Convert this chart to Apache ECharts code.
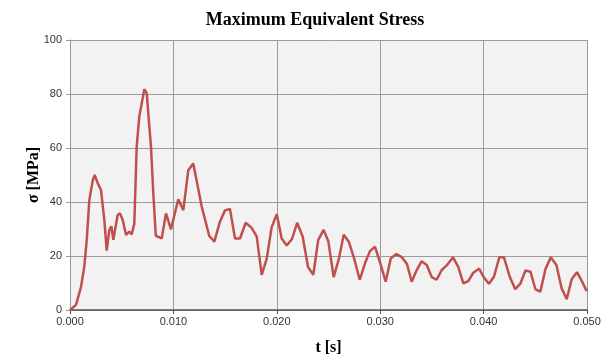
<!DOCTYPE html>
<html>
<head>
<meta charset="utf-8">
<script src="https://cdn.jsdelivr.net/npm/echarts@6/dist/echarts.min.js"></script>
<style>
html,body{margin:0;padding:0;background:#fff;}
#chart{width:612px;height:361px;}
</style>
</head>
<body>
<div id="chart"></div>
<script>
// time in ms (converted to s below), stress in MPa
var timeMs=[0,0.58,1.06,1.38,1.62,1.87,2.2,2.39,2.68,3.0,3.32,3.55,3.8,4.0,4.19,4.61,4.84,5.1,5.42,5.74,5.97,6.22,6.45,6.7,7.19,7.42,7.83,8.06,8.3,
    8.87,9.28,9.4,9.77,10.47,10.96,11.44,11.92,12.74,13.47,13.96,14.5,14.99,15.47,15.96,16.44,16.99,17.57,18.06,18.54,19.02,19.5,20.0,
    20.47,20.96,21.47,21.97,22.5,23.02,23.53,24.01,24.52,24.98,25.5,26.0,26.47,26.96,27.49,28.02,28.53,29.01,29.5,29.98,30.53,31.02,
    31.56,32.08,32.59,33.05,33.53,34.01,34.5,34.98,35.46,35.95,36.43,37.04,37.55,38.04,38.52,39.0,39.56,40.04,40.52,41.0,41.52,41.97,
    42.51,43.06,43.56,44.05,44.53,45.02,45.49,45.99,46.5,47.04,47.55,48.04,48.52,49.03,49.49,49.97];
var stress=[0,1.9,8.5,16,26,40.7,48,50,47,44.4,33.3,22,29.6,31,26,35.2,35.8,33.3,27.8,29,28,32,60.5,71.6,81.8,80.2,60.5,43,27.5,
    26.5,35.8,36,29.9,41,37,51.8,54.3,38.3,27.4,25.3,32.7,36.9,37.4,26.5,26.5,32.3,30.4,27.2,13,18.9,30.6,35.5,
    26.5,23.9,26.3,32.3,27.2,15.9,13,26,29.7,25.5,12.2,18.9,27.9,25.3,18.9,11.2,17.3,21.8,23.4,17.6,10.5,19.1,
    20.7,19.6,17,10.5,14.8,18.1,16.7,12.2,11.2,14.8,16.5,19.5,16,9.9,10.7,13.8,15.3,12,9.7,12.3,19.5,19.5,
    12.5,7.7,9.8,14.6,14.2,7.6,6.8,15.3,19.5,16.7,8,4,11.4,14,10.8,7];

var points=[];
for(var i=0;i<timeMs.length;i++){
    points.push([timeMs[i]/1000,stress[i]]);
}

var myChart=echarts.init(document.getElementById('chart'));

var option={
    animation:false,
    backgroundColor:'#ffffff',
    title:{
        text:'Maximum Equivalent Stress',
        left:310,
        textAlign:'center',
        top:6,
        textStyle:{
            fontFamily:'Liberation Serif',
            fontWeight:'bold',
            fontSize:18,
            color:'#000'
        }
    },
    grid:{
        left:70,
        right:25,
        top:40,
        bottom:51,
        show:true,
        backgroundColor:'#f2f2f2',
        borderWidth:0
    },
    xAxis:{
        type:'value',
        min:0,
        max:0.05,
        interval:0.01,
        name:'t [s]',
        nameLocation:'middle',
        nameGap:30,
        nameMoveOverlap:false,
        nameTextStyle:{
            fontFamily:'Liberation Serif',
            fontWeight:'bold',
            fontSize:16,
            color:'#000'
        },
        axisLine:{lineStyle:{color:'#555',width:1.5}},
        axisTick:{show:true,length:4,lineStyle:{color:'#555'}},
        splitLine:{show:true,lineStyle:{color:'#9a9a9a',width:1}},
        axisLabel:{
            fontFamily:'Liberation Sans',
            fontSize:11,
            color:'#333',
            margin:6,
            formatter:function(v){return v.toFixed(3);}
        }
    },
    yAxis:{
        type:'value',
        min:0,
        max:100,
        interval:20,
        name:'σ [MPa]',
        nameLocation:'middle',
        nameGap:28,
        nameMoveOverlap:false,
        nameTextStyle:{
            fontFamily:'Liberation Serif',
            fontWeight:'bold',
            fontSize:16,
            color:'#000'
        },
        axisLine:{show:true,lineStyle:{color:'#9a9a9a'}},
        axisTick:{show:true,length:4,lineStyle:{color:'#9a9a9a'}},
        splitLine:{show:true,lineStyle:{color:'#9a9a9a',width:1}},
        axisLabel:{
            fontFamily:'Liberation Sans',
            fontSize:11,
            color:'#333',
            margin:8
        }
    },
    series:[{
        type:'line',
        data:points,
        showSymbol:false,
        symbol:'none',
        lineStyle:{color:'#c0504d',width:2.5},
        itemStyle:{color:'#c0504d'}
    }]
};

myChart.setOption(option);
</script>
</body>
</html>
